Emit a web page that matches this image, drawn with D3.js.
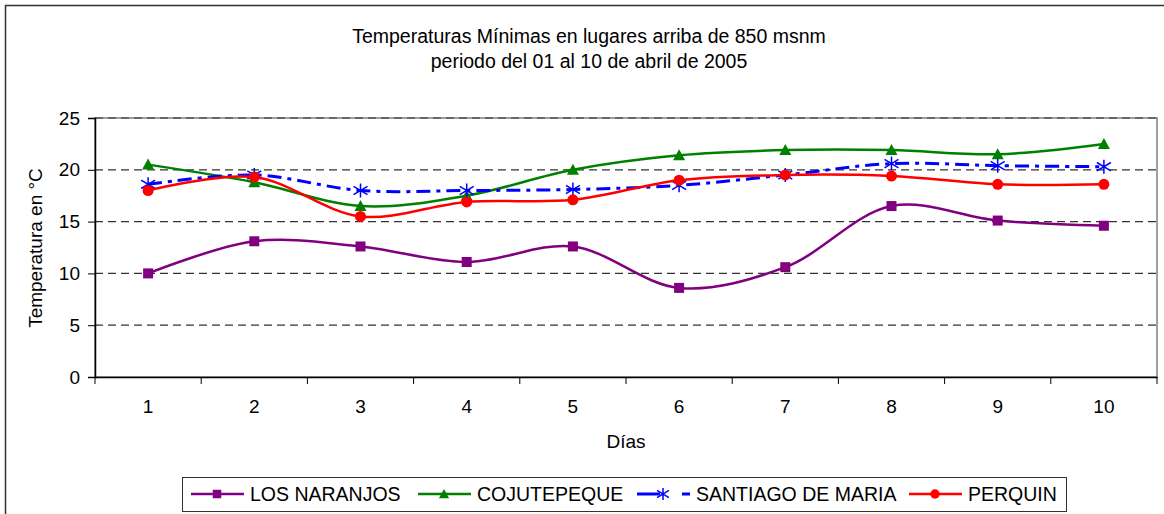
<!DOCTYPE html>
<html lang="es">
<head>
<meta charset="utf-8">
<title>Temperaturas Mínimas</title>
<script src="https://d3js.org/d3.v7.min.js"></script>
<style>
  body { margin: 0; background: #fff; }
  svg { font-family: "Liberation Sans", Arial, sans-serif; display: block; }
</style>
</head>
<body>
<script>
// data
var dias = ["1", "2", "3", "4", "5", "6", "7", "8", "9", "10"];
var yTicks = [0, 5, 10, 15, 20, 25];
var losNaranjos = [10.0, 13.1, 12.6, 11.1, 12.6, 8.6, 10.6, 16.5, 15.1, 14.6];
var cojutepeque = [20.5, 18.8, 16.5, 17.5, 20.0, 21.4, 21.9, 21.9, 21.5, 22.5];
var santiagoDeMaria = [18.6, 19.5, 18.0, 18.0, 18.1, 18.5, 19.5, 20.6, 20.4, 20.3];
var perquin = [18.0, 19.3, 15.5, 16.9, 17.1, 19.0, 19.5, 19.4, 18.6, 18.6];
var seriesNames = ["LOS NARANJOS", "COJUTEPEQUE", "SANTIAGO DE MARIA", "PERQUIN"];

var series = [
  {name: seriesNames[0], values: losNaranjos, color: "#800080", marker: "square", dash: null},
  {name: seriesNames[1], values: cojutepeque, color: "#008000", marker: "triangle", dash: null},
  {name: seriesNames[2], values: santiagoDeMaria, color: "#0000ff", marker: "star", dash: "14,6,4,6"},
  {name: seriesNames[3], values: perquin, color: "#ff0000", marker: "circle", dash: null}
];

var W = 1164, H = 514;
var margin = {top: 118, right: 7, bottom: 137, left: 95};
var width = W - margin.left - margin.right,
    height = H - margin.top - margin.bottom;

var svg = d3.select("body").append("svg")
    .attr("width", W)
    .attr("height", H);

// outer chart border
svg.append("rect")
  .attr("x", 5.5).attr("y", 5.5)
  .attr("width", W + 20).attr("height", H + 20)
  .attr("fill", "none").attr("stroke", "#333").attr("stroke-width", 1.5);

// title
var title = svg.append("text")
  .attr("x", 589).attr("text-anchor", "middle")
  .attr("font-size", "19.5px").attr("fill", "#000");
title.append("tspan").attr("x", 589).attr("y", 43).text("Temperaturas Mínimas en lugares arriba de 850 msnm");
title.append("tspan").attr("x", 589).attr("y", 68).text("periodo del 01 al 10 de abril de 2005");

var g = svg.append("g")
  .attr("transform", "translate(" + margin.left + "," + margin.top + ")");

var x = d3.scaleBand().domain(dias).range([0, width]);
var y = d3.scaleLinear().domain([0, 25]).range([height, 0]);

// plot area border
g.append("rect")
  .attr("x", 0).attr("y", 0)
  .attr("width", width).attr("height", height)
  .attr("fill", "none").attr("stroke", "#808080").attr("stroke-width", 1.5);

// gridlines
g.selectAll(".grid")
  .data(yTicks.filter(function(d) { return d > 0; }))
  .enter().append("line")
  .attr("x1", 0).attr("x2", width)
  .attr("y1", function(d) { return y(d); })
  .attr("y2", function(d) { return y(d); })
  .attr("stroke", "#333").attr("stroke-width", 1.2)
  .attr("stroke-dasharray", "8,5");

// y axis
var yAxis = g.append("g")
  .call(d3.axisLeft(y).tickValues(yTicks).tickSize(7).tickPadding(8));
yAxis.select(".domain").attr("stroke", "#000").attr("stroke-width", 1.5);
yAxis.selectAll("text").attr("font-size", "19px").attr("font-family", "Liberation Sans, Arial, sans-serif").attr("fill", "#000");

// x axis, ticks at the category borders
var xAxis = g.append("g")
  .attr("transform", "translate(0," + height + ")")
  .call(d3.axisBottom(x).tickSize(0).tickPadding(23));
xAxis.select(".domain").attr("stroke", "#000").attr("stroke-width", 1.5);
xAxis.selectAll("text").attr("font-size", "19px").attr("font-family", "Liberation Sans, Arial, sans-serif").attr("fill", "#000");
xAxis.selectAll(".border-tick")
  .data(dias.concat(["end"]))
  .enter().append("line")
  .attr("x1", function(d, i) { return i * x.step(); })
  .attr("x2", function(d, i) { return i * x.step(); })
  .attr("y1", 0).attr("y2", 7)
  .attr("stroke", "#000").attr("stroke-width", 1);

// axis titles
svg.append("text")
  .attr("x", 626).attr("y", 448)
  .attr("text-anchor", "middle").attr("font-size", "19px")
  .text("Días");
svg.append("text")
  .attr("transform", "translate(42,248) rotate(-90)")
  .attr("text-anchor", "middle").attr("font-size", "19px")
  .text("Temperatura en °C");

function cx(i) { return x(dias[i]) + x.bandwidth() / 2; }

var line = d3.line()
  .x(function(d, i) { return cx(i); })
  .y(function(d) { return y(d); })
  .curve(d3.curveCatmullRom.alpha(0.5));

function drawMarker(sel, type, color, px, py, k) {
  k = k || 1;
  if (type === "square") {
    sel.append("rect").attr("x", px - 5 * k).attr("y", py - 5 * k)
      .attr("width", 10 * k).attr("height", 10 * k).attr("fill", color);
  } else if (type === "triangle") {
    sel.append("path")
      .attr("d", "M" + px + "," + (py - 6 * k) + "L" + (px + 6 * k) + "," + (py + 5 * k) + "L" + (px - 6 * k) + "," + (py + 5 * k) + "Z")
      .attr("fill", color);
  } else if (type === "circle") {
    sel.append("circle").attr("cx", px).attr("cy", py).attr("r", 5.5 * k).attr("fill", color);
  } else if (type === "star") {
    var r = 7 * k;
    sel.append("path")
      .attr("d", "M" + px + "," + (py - r) + "V" + (py + r) +
                 "M" + (px - r) + "," + (py - r * 0.6) + "L" + (px + r) + "," + (py + r * 0.6) +
                 "M" + (px - r) + "," + (py + r * 0.6) + "L" + (px + r) + "," + (py - r * 0.6))
      .attr("stroke", color).attr("stroke-width", 1.5).attr("fill", "none");
  }
}

series.forEach(function(s) {
  var sg = g.append("g");
  sg.append("path")
    .datum(s.values)
    .attr("d", line)
    .attr("fill", "none")
    .attr("stroke", s.color)
    .attr("stroke-width", s.marker === "star" ? 3 : 2.5)
    .attr("stroke-dasharray", s.dash);
  s.values.forEach(function(v, i) {
    drawMarker(sg, s.marker, s.color, cx(i), y(v));
  });
});

// legend
var legend = svg.append("g");
legend.append("rect")
  .attr("x", 182.5).attr("y", 477.5)
  .attr("width", 884).attr("height", 34)
  .attr("fill", "#fff").attr("stroke", "#333").attr("stroke-width", 1);

var legendX = [191, 418, 637, 909];
series.forEach(function(s, i) {
  var lx = legendX[i], ly = 494;
  legend.append("line")
    .attr("x1", lx).attr("x2", lx + 53)
    .attr("y1", ly).attr("y2", ly)
    .attr("stroke", s.color)
    .attr("stroke-width", s.marker === "star" ? 3 : 2.5)
    .attr("stroke-dasharray", s.marker === "star" ? "23,22,8" : null);
  drawMarker(legend, s.marker, s.color, lx + 26, ly, 0.85);
  legend.append("text")
    .attr("x", lx + 59).attr("y", ly + 7)
    .attr("font-size", "19.5px")
    .text(s.name);
});
</script>
</body>
</html>
